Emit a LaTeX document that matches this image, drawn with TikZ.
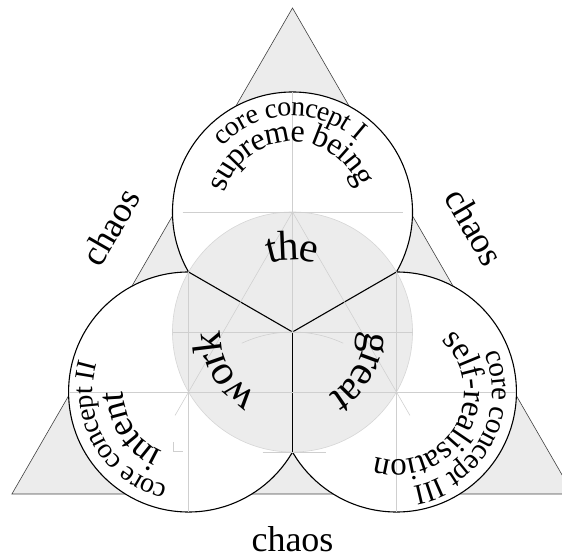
\documentclass[tikz,border=0pt]{standalone}
\usepackage{fontspec}
\setmainfont{Liberation Serif}
\usetikzlibrary{calc,decorations.text}
\definecolor{trigray}{HTML}{ECECEC}
\definecolor{consgray}{HTML}{CFCFCF}
\definecolor{edgegray}{HTML}{D6D6D6}
\begin{document}
\begin{tikzpicture}[x=1pt,y=1pt,
  triangle/.style={fill=trigray,draw=black!75,line width=0.6pt,line join=miter},
  circ/.style={fill=white,draw=black,line width=1.1pt},
  core/.style={fill=trigray,draw=edgegray,line width=0.6pt},
  yline/.style={draw=black,line width=1.1pt},
  cons/.style={draw=consgray,line width=0.55pt},
  chaos/.style={font=\fontsize{36}{36}\selectfont,inner sep=0pt},
  arctext/.style n args={3}{decorate,decoration={text along path,text align=center,raise=#3,
     text={|\fontsize{#1}{#1}\selectfont|#2}}}
]
\useasboundingbox (0,0) rectangle (562,554);
% key points
\coordinate (C) at (292.5,222);
\coordinate (T) at ($(C)+(90:120)$);
\coordinate (L) at ($(C)+(210:120)$);
\coordinate (R) at ($(C)+(330:120)$);
\coordinate (PTL) at ($(C)+(150:120)$);
\coordinate (PTR) at ($(C)+(30:120)$);
\coordinate (PB) at ($(C)+(270:120)$);
\coordinate (A1) at ($(C)+(90:324)$);
\coordinate (A2) at ($(C)+(210:324)$);
\coordinate (A3) at ($(C)+(330:324)$);
% triangle
\path[triangle] (A1) -- (A2) -- (A3) -- cycle;
% circles
\path[circ] (T) circle[radius=120pt];
\path[circ] (L) circle[radius=120pt];
\path[circ] (R) circle[radius=120pt];
% central disc
\path[core] (C) circle[radius=120pt];
% Y lines
\draw[yline] (C) -- (PTL);
\draw[yline] (C) -- (PTR);
\draw[yline] (C) -- (PB);
% construction lines
\draw[cons] ($(T)+(0,120)$) -- (C);
\draw[cons] ($(T)+(-110,0)$) -- ($(T)+(110,0)$);
\draw[cons] (T) -- ($(T)!1.13!(L)$);
\draw[cons] (T) -- ($(T)!1.13!(R)$);
\draw[cons] ($(L)+(-120,0)$) -- ($(R)+(120,0)$);
\draw[cons] ($(C)+(-120,0)$) -- ($(C)+(120,0)$);
\draw[cons] (PTL) -- ($(L)+(0,-120)$);
\draw[cons] (PTR) -- ($(R)+(0,-120)$);
\draw[cons] ($(PB)+(65:120)$) arc[start angle=65,end angle=115,radius=120pt];
\draw[cons] ($(PB)+(-30,0)$) -- ($(PB)+(33,0)$);
\draw[cons] (173,112) -- (173,102.5) -- (183,102.5);
% chaos labels
\node[chaos] (chB) at ($(C)+(270:207)$) {chaos};
\node[chaos,rotate=60] (chL) at ($(C)+(150:210)$) {chaos};
\node[chaos,rotate=-60] (chR) at ($(C)+(30:210)$) {chaos};
% top circle texts
\path[arctext={28}{core concept I}{-6pt}] ($(T)+(182:102)$) arc[start angle=182,end angle=2,radius=102pt];
\path[arctext={32}{supreme being}{-5pt}] ($(T)+(182:75)$) arc[start angle=182,end angle=2,radius=75pt];
% left circle texts
\path[arctext={28}{core concept II}{-6pt}] ($(L)+(300:102)$) arc[start angle=300,end angle=120,radius=102pt];
\path[arctext={36}{intent}{-5pt}] ($(L)+(303:70)$) arc[start angle=303,end angle=123,radius=70pt];
% right circle texts
\path[arctext={29}{core concept III}{-6pt}] ($(R)+(62:102)$) arc[start angle=62,end angle=-118,radius=102pt];
\path[arctext={33}{self-realisation}{-4pt}] ($(R)+(60:72)$) arc[start angle=60,end angle=-120,radius=72pt];
% central texts
\path[arctext={42}{the}{-9pt}] ($(C)+(180:81)$) arc[start angle=180,end angle=0,radius=81pt];
\path[arctext={42}{work}{-9pt}] ($(C)+(300:81)$) arc[start angle=300,end angle=120,radius=81pt];
\path[arctext={42}{great}{-9pt}] ($(C)+(60:81)$) arc[start angle=60,end angle=-120,radius=81pt];
\end{tikzpicture}
\end{document}
